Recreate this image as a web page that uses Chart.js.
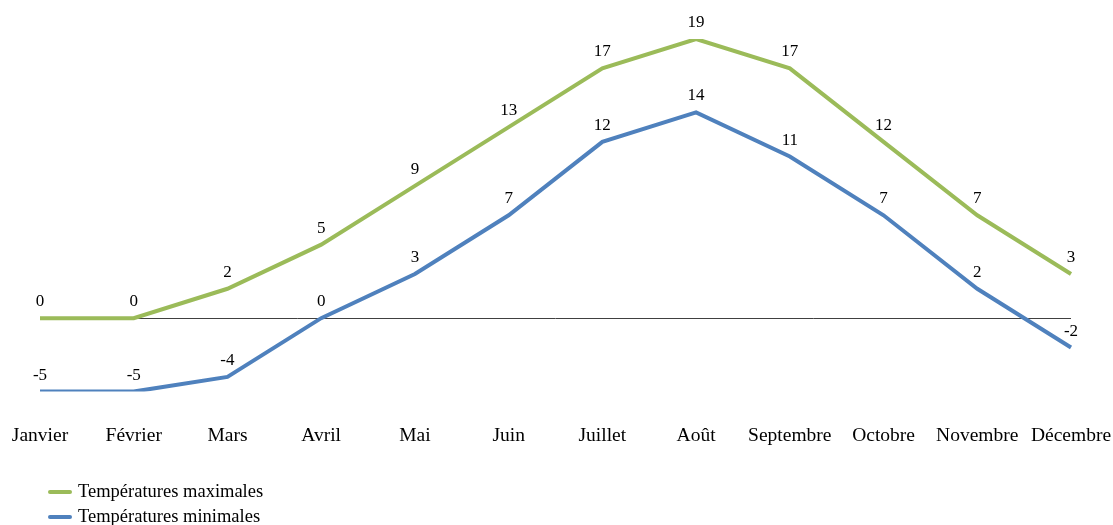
<!DOCTYPE html>
<html>
<head>
<meta charset="utf-8">
<script src="https://cdn.jsdelivr.net/npm/chart.js@4"></script>
<style>
  html, body { margin: 0; padding: 0; background: #fff; }
  #wrap { width: 1113px; height: 525px; position: relative; }
</style>
</head>
<body>
<div id="wrap"><canvas id="chart"></canvas></div>
<script>
const months = ['Janvier', 'Février', 'Mars', 'Avril', 'Mai', 'Juin', 'Juillet', 'Août', 'Septembre', 'Octobre', 'Novembre', 'Décembre'];
const maxTemps = [0, 0, 2, 5, 9, 13, 17, 19, 17, 12, 7, 3];
const minTemps = [-5, -5, -4, 0, 3, 7, 12, 14, 11, 7, 2, -2];
const seriesNames = ['Températures maximales', 'Températures minimales'];
const green = '#9bbb59';
const blue = '#4f81bd';
const serif = "'Liberation Serif', 'DejaVu Serif', serif";

// zero line under the series, value labels and a stacked legend on top
const decor = {
  id: 'decor',
  beforeDatasetsDraw(chart) {
    const { ctx, chartArea, scales: { y } } = chart;
    const y0 = Math.round(y.getPixelForValue(0)) + 0.5;
    ctx.save();
    ctx.strokeStyle = '#404040';
    ctx.lineWidth = 1;
    ctx.beginPath();
    ctx.moveTo(chartArea.left, y0);
    ctx.lineTo(chartArea.right, y0);
    ctx.stroke();
    ctx.restore();
  },
  afterDatasetsDraw(chart) {
    const { ctx } = chart;
    ctx.save();
    ctx.fillStyle = '#000';
    ctx.font = '17px ' + serif;
    ctx.textAlign = 'center';
    ctx.textBaseline = 'alphabetic';
    chart.data.datasets.forEach((ds, i) => {
      chart.getDatasetMeta(i).data.forEach((pt, j) => {
        ctx.fillText(String(ds.data[j]), pt.x, pt.y - 12);
      });
    });
    // legend
    ctx.font = '18.5px ' + serif;
    ctx.textAlign = 'left';
    ctx.textBaseline = 'middle';
    chart.data.datasets.forEach((ds, i) => {
      const ly = 492 + i * 25;
      ctx.strokeStyle = ds.borderColor;
      ctx.lineWidth = 4;
      ctx.lineCap = 'round';
      ctx.beginPath();
      ctx.moveTo(50, ly);
      ctx.lineTo(70, ly);
      ctx.stroke();
      ctx.fillStyle = '#000';
      ctx.fillText(ds.label, 78, ly);
    });
    ctx.restore();
  }
};

new Chart(document.getElementById('chart'), {
  type: 'line',
  data: {
    labels: months,
    datasets: [
      { label: seriesNames[0], data: maxTemps, borderColor: green, backgroundColor: green, borderWidth: 4, pointRadius: 0, tension: 0 },
      { label: seriesNames[1], data: minTemps, borderColor: blue, backgroundColor: blue, borderWidth: 4, pointRadius: 0, tension: 0 }
    ]
  },
  options: {
    responsive: true,
    maintainAspectRatio: false,
    animation: false,
    layout: { padding: { top: 39, left: 40, right: 42, bottom: 44 } },
    plugins: { legend: { display: false }, tooltip: { enabled: false } },
    scales: {
      x: {
        offset: false,
        grid: { display: false, drawTicks: false },
        border: { display: false },
        ticks: { color: '#000', font: { family: serif, size: 19.5 }, padding: 33, maxRotation: 0, autoSkip: false },
        afterFit(scale) { scale.paddingLeft = 0; scale.paddingRight = 0; }
      },
      y: { display: false, min: -5, max: 19 }
    }
  },
  plugins: [decor]
});
</script>
</body>
</html>
